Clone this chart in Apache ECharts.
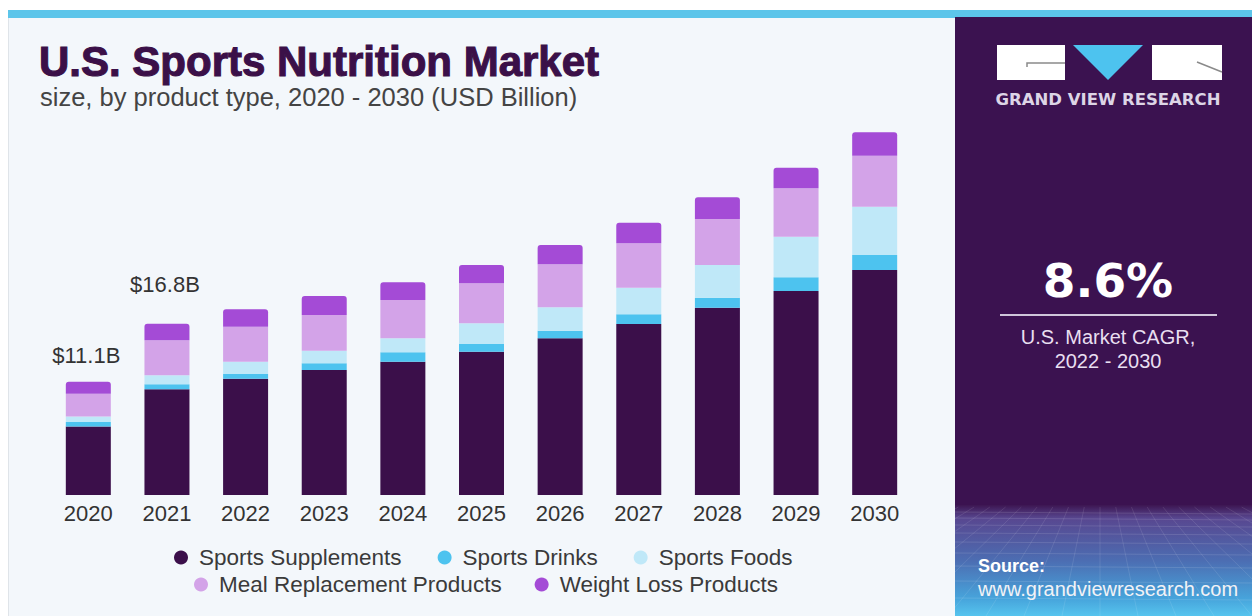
<!DOCTYPE html>
<html>
<head>
<meta charset="utf-8">
<script src="https://cdn.jsdelivr.net/npm/echarts@6/dist/echarts.min.js"></script>
<style>
  html, body { margin: 0; padding: 0; background: #ffffff; }
  #chart { width: 1252px; height: 616px; }
</style>
</head>
<body>
<div id="chart"></div>
<script>
// U.S. sports nutrition market size by product type, USD billion
const years = ['2020', '2021', '2022', '2023', '2024', '2025', '2026', '2027', '2028', '2029', '2030'];
const sportsSupplements = [6.72, 10.37, 11.40, 12.25, 13.07, 14.05, 15.36, 16.76, 18.36, 20.00, 22.06];
const sportsDrinks      = [0.43, 0.49, 0.46, 0.66, 0.92, 0.75, 0.75, 0.95, 0.98, 1.34, 1.47];
const sportsFoods       = [0.55, 0.88, 1.21, 1.24, 1.37, 2.03, 2.29, 2.61, 3.21, 3.98, 4.74];
const mealReplacement   = [2.23, 3.43, 3.43, 3.50, 3.75, 3.92, 4.22, 4.35, 4.51, 4.75, 5.00];
const weightLoss        = [1.17, 1.63, 1.71, 1.85, 1.74, 1.80, 1.89, 2.02, 2.13, 2.02, 2.29];
const seriesNames = ['Sports Supplements', 'Sports Drinks', 'Sports Foods', 'Meal Replacement Products', 'Weight Loss Products'];
const labelledYears = ['2020', '2021'];
const cagrText = '8.6%';
const cagrCaption = ['U.S. Market CAGR,', '2022 - 2030'];

const seriesValues = [sportsSupplements, sportsDrinks, sportsFoods, mealReplacement, weightLoss];
const seriesColors = ['#3b0f4a', '#4dc3ef', '#bfe8f8', '#d3a3e8', '#a44bd6'];
const totals = years.map((_, i) => seriesValues.reduce((s, arr) => s + arr[i], 0));

const FONT = '"Liberation Sans", Arial, sans-serif';
const TEXT_DARK = '#333333';
const labelDistance = { '2020': 15, '2021': 28 };

const series = seriesValues.map((values, si) => {
  const isTop = si === seriesValues.length - 1;
  return {
    name: seriesNames[si],
    type: 'bar',
    stack: 'market',
    barWidth: 45,
    itemStyle: { color: seriesColors[si], borderRadius: isTop ? [3, 3, 0, 0] : 0 },
    emphasis: { disabled: true },
    data: values.map((v, i) => {
      if (isTop && labelledYears.includes(years[i])) {
        return {
          value: v,
          label: {
            show: true,
            position: 'top',
            distance: labelDistance[years[i]],
            offset: [-2, 0],
            formatter: '$' + totals[i].toFixed(1) + 'B',
            fontSize: 22,
            fontFamily: FONT,
            color: TEXT_DARK
          }
        };
      }
      return v;
    })
  };
});

// Perspective mesh in the source banner
const meshLines = [];
const meshTop = 507, meshBottom = 616, meshLeft = 955, meshRight = 1252;
[512, 518, 525, 533, 542, 553, 566, 581, 598].forEach(y => {
  meshLines.push({ type: 'line', silent: true,
    shape: { x1: meshLeft, y1: y, x2: meshRight, y2: y + 2 },
    style: { stroke: 'rgba(255,255,255,0.12)', lineWidth: 1 } });
});
for (let k = -10; k <= 14; k++) {
  const vx = 1100, vy = 430;
  const bx = 1100 + k * 38;
  const t = (meshTop - vy) / (meshBottom - vy);
  meshLines.push({ type: 'line', silent: true,
    shape: { x1: vx + (bx - vx) * t, y1: meshTop, x2: bx, y2: meshBottom },
    style: { stroke: 'rgba(255,255,255,0.10)', lineWidth: 1 } });
}

const graphics = [
  // top stripe and panels
  { type: 'rect', silent: true, z: -10, shape: { x: 8, y: 10, width: 1244, height: 8 }, style: { fill: '#5cc5ea' } },
  { type: 'rect', silent: true, z: -10, shape: { x: 8, y: 18, width: 947, height: 598 }, style: { fill: '#f3f7fb' } },
  { type: 'line', silent: true, z: -9, shape: { x1: 8.5, y1: 18, x2: 8.5, y2: 616 }, style: { stroke: '#dfe4e9', lineWidth: 1 } },
  { type: 'rect', silent: true, z: -10, shape: { x: 955, y: 17, width: 297, height: 492 }, style: { fill: '#3b1250' } },
  { type: 'rect', silent: true, z: -10, shape: { x: 955, y: 505, width: 297, height: 111 },
    style: { fill: new echarts.graphic.LinearGradient(0, 0, 0, 1, [
      { offset: 0, color: '#3d1652' },
      { offset: 0.12, color: '#584790' },
      { offset: 0.5, color: '#4c6db2' },
      { offset: 0.85, color: '#47a5dc' },
      { offset: 1, color: '#56c4ee' }
    ]) } },
  ...meshLines.map(l => Object.assign(l, { z: -9 })),

  // title block
  { type: 'text', silent: true, x: 39, y: 61,
    style: { text: 'U.S. Sports Nutrition Market', fill: '#3b1048', fontSize: 42, fontWeight: 'bold', fontFamily: FONT,
      verticalAlign: 'middle', stroke: '#3b1048', lineWidth: 1.1 } },
  { type: 'text', silent: true, x: 40, y: 97,
    style: { text: 'size, by product type, 2020 - 2030 (USD Billion)', fill: '#444444', fontSize: 25.5, fontFamily: FONT,
      verticalAlign: 'middle' } },

  // logo
  { type: 'rect', silent: true, shape: { x: 997, y: 45, width: 68, height: 35 }, style: { fill: '#ffffff' } },
  { type: 'polygon', silent: true, shape: { points: [[1073, 45], [1143, 45], [1108, 80]] }, style: { fill: '#4dc3ef' } },
  { type: 'rect', silent: true, shape: { x: 1152, y: 45, width: 70, height: 35 }, style: { fill: '#ffffff' } },
  { type: 'polyline', silent: true, shape: { points: [[1027, 67], [1027, 63], [1065, 63]] }, style: { stroke: '#8a8a8a', lineWidth: 1.5, fill: null } },
  { type: 'polyline', silent: true, shape: { points: [[1197, 62], [1222, 72]] }, style: { stroke: '#8a8a8a', lineWidth: 1.5, fill: null } },
  { type: 'text', silent: true, x: 1108, y: 99,
    style: { text: 'GRAND VIEW RESEARCH', fill: '#ddd5e6', fontSize: 16.5, fontWeight: 'bold', fontFamily: '"DejaVu Sans", sans-serif',
      align: 'center', verticalAlign: 'middle' } },

  // CAGR callout
  { type: 'text', silent: true, x: 1108, y: 280,
    style: { text: cagrText, fill: '#ffffff', fontSize: 47, fontWeight: 'bold', fontFamily: '"DejaVu Sans", sans-serif',
      align: 'center', verticalAlign: 'middle' } },
  { type: 'line', silent: true, shape: { x1: 1000, y1: 315, x2: 1217, y2: 315 }, style: { stroke: '#cfc6da', lineWidth: 2 } },
  { type: 'text', silent: true, x: 1108, y: 337,
    style: { text: cagrCaption[0], fill: '#e8dff0', fontSize: 20, fontFamily: FONT, align: 'center', verticalAlign: 'middle' } },
  { type: 'text', silent: true, x: 1108, y: 361,
    style: { text: cagrCaption[1], fill: '#e8dff0', fontSize: 20, fontFamily: FONT, align: 'center', verticalAlign: 'middle' } },

  // source
  { type: 'text', silent: true, x: 978, y: 566,
    style: { text: 'Source:', fill: '#ffffff', fontSize: 18, fontWeight: 'bold', fontFamily: FONT, verticalAlign: 'middle' } },
  { type: 'text', silent: true, x: 978, y: 588.5,
    style: { text: 'www.grandviewresearch.com', fill: '#f2f2f6', fontSize: 20, fontFamily: FONT, verticalAlign: 'middle' } }
];

const legendBase = {
  icon: 'circle',
  itemWidth: 26,
  itemHeight: 14,
  padding: 0,
  selectedMode: false,
  textStyle: { fontSize: 22.5, fontFamily: FONT, color: '#3a3a3a' }
};

const option = {
  backgroundColor: '#ffffff',
  animation: false,
  color: seriesColors,
  graphic: graphics,
  legend: [
    Object.assign({}, legendBase, { data: seriesNames.slice(0, 3), left: 174, top: 546, itemGap: 36 }),
    Object.assign({}, legendBase, { data: seriesNames.slice(3), left: 194, top: 573, itemGap: 33 })
  ],
  grid: { left: 49, right: 338, top: 87, bottom: 121, containLabel: false },
  xAxis: {
    type: 'category',
    data: years,
    axisLine: { show: false },
    axisTick: { show: false },
    axisLabel: { margin: 7, fontSize: 22, fontFamily: FONT, color: TEXT_DARK }
  },
  yAxis: {
    type: 'value',
    min: 0,
    max: 40,
    show: false,
    splitLine: { show: false }
  },
  series: series
};

const chart = echarts.init(document.getElementById('chart'), null, { renderer: 'svg' });
chart.setOption(option);
</script>
</body>
</html>
